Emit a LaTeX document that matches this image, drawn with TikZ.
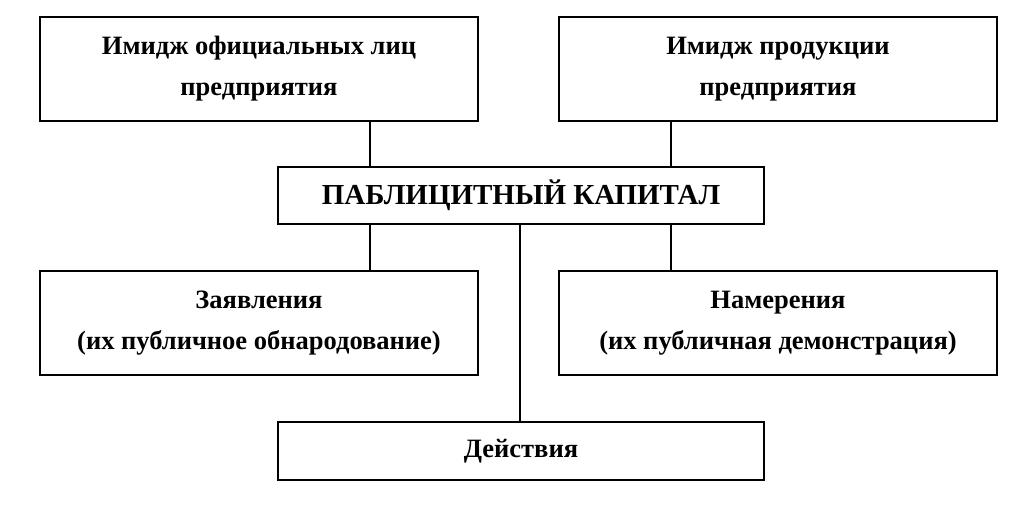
\documentclass[tikz,border=0pt]{standalone}
\usepackage{fontspec}
\setmainfont{Liberation Serif}
\begin{document}
\begin{tikzpicture}[x=1pt,y=-1pt,
  box/.style={draw,line width=2.6pt,minimum width=#1,align=center,inner sep=0pt,font=\fontsize{26.5}{41}\selectfont\bfseries},
  lnk/.style={line width=2.4pt}]
\useasboundingbox (0,0) rectangle (1033,508);
\node[box=438pt,minimum height=104pt] (tl) at (259,69) {Имидж официальных лиц\\предприятия};
\node[box=438pt,minimum height=104pt] (tr) at (778,69) {Имидж продукции\\предприятия};
\node[box=486pt,minimum height=57pt] (c) at (521,195.5) {\fontsize{29}{36}\selectfont ПАБЛИЦИТНЫЙ КАПИТАЛ};
\node[box=438pt,minimum height=104pt] (ml) at (259,323) {Заявления\\(их публичное обнародование)};
\node[box=438pt,minimum height=104pt] (mr) at (778,323) {Намерения\\(их публичная демонстрация)};
\node[box=486pt,minimum height=58pt] (b) at (521,451) {Действия};
\coordinate (xl) at (370,0);
\coordinate (xr) at (671,0);
\coordinate (xm) at (520,0);
\draw[lnk] (tl.south -| xl) -- (c.north -| xl);
\draw[lnk] (tr.south -| xr) -- (c.north -| xr);
\draw[lnk] (c.south -| xl) -- (ml.north -| xl);
\draw[lnk] (c.south -| xr) -- (mr.north -| xr);
\draw[lnk] (c.south -| xm) -- (b.north -| xm);
\end{tikzpicture}
\end{document}
